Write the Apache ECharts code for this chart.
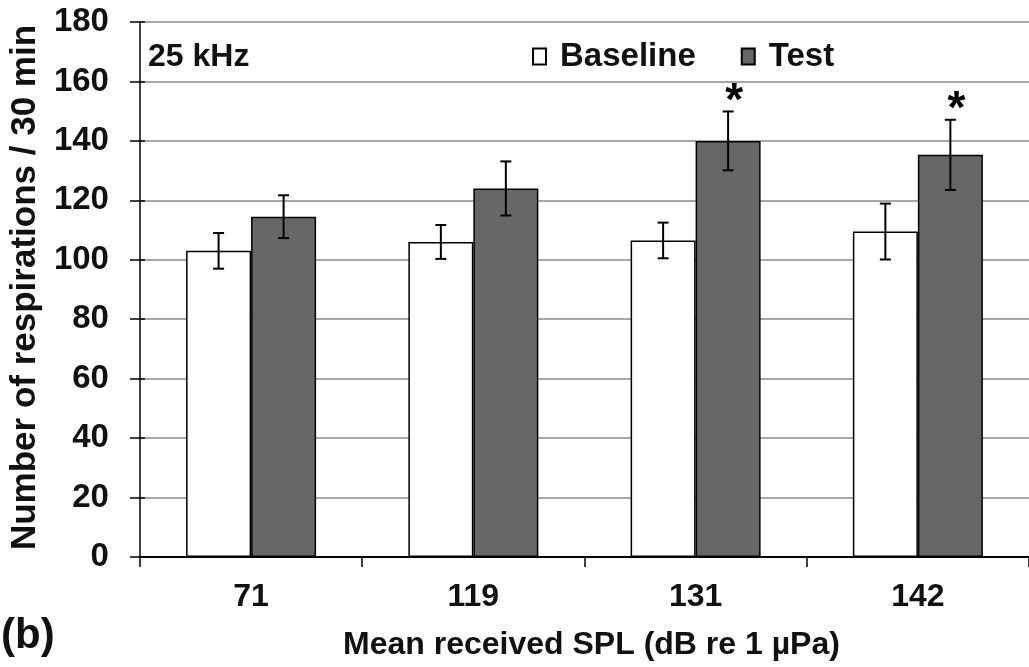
<!DOCTYPE html>
<html>
<head>
<meta charset="utf-8">
<script src="https://cdn.jsdelivr.net/npm/echarts@6/dist/echarts.min.js"></script>
<style>
html,body{margin:0;padding:0;background:#fff;}
#chart{width:1029px;height:667px;}
</style>
</head>
<body>
<div id="chart"></div>
<script>
var categories = ['71', '119', '131', '142'];
var baseline = [103, 106, 106.5, 109.5];
var baselineErr = [6, 5.7, 6, 9.4];
var test = [114.5, 124, 140, 135.3];
var testErr = [7.2, 9.1, 9.9, 11.8];
var significant = [false, false, true, true];
var yMin = 0, yMax = 180, yStep = 20;

var FONT = '"Liberation Sans", Arial, sans-serif';
var BAR_W = 65;

function errData(vals, errs, sig) {
  return vals.map(function (v, i) { return [i, v, errs[i], sig && sig[i] ? 1 : 0]; });
}

function errRender(side) {
  return function (params, api) {
    var i = api.value(0), v = api.value(1), e = api.value(2), s = api.value(3);
    var hi = api.coord([i, v + e]);
    var lo = api.coord([i, v - e]);
    var x = hi[0] + side * BAR_W / 2;
    var cap = 5.5;
    var st = { stroke: '#000', lineWidth: 2 };
    var children = [
      { type: 'line', shape: { x1: x, y1: hi[1], x2: x, y2: lo[1] }, style: st },
      { type: 'line', shape: { x1: x - cap, y1: hi[1], x2: x + cap, y2: hi[1] }, style: st },
      { type: 'line', shape: { x1: x - cap, y1: lo[1], x2: x + cap, y2: lo[1] }, style: st }
    ];
    if (s) {
      children.push({
        type: 'text',
        style: { text: '*', x: x + 6, y: hi[1] + 14, textAlign: 'center', textVerticalAlign: 'bottom',
                 font: 'bold 46px ' + FONT, fill: '#000' }
      });
    }
    return { type: 'group', children: children };
  };
}

var chart = echarts.init(document.getElementById('chart'));
chart.setOption({
  animation: false,
  backgroundColor: '#fff',
  grid: { left: 132, right: -4, top: 22, bottom: 110, containLabel: false },
  legend: {
    left: 532, top: 40, padding: 0,
    itemWidth: 13, itemHeight: 16, itemGap: 45,
    icon: 'rect',
    data: ['Baseline', 'Test'],
    textStyle: { fontFamily: FONT, fontWeight: 'bold', fontSize: 33, color: '#111', padding: [0, 0, 0, 9] }
  },
  graphic: [
    { type: 'text', left: 148, top: 41, style: { text: '25 kHz', font: 'bold 32px ' + FONT, fill: '#111' } },
    { type: 'text', left: 1, top: 615, style: { text: '(b)', font: 'bold 42px ' + FONT, fill: '#111' } }
  ],
  xAxis: {
    type: 'category',
    data: categories,
    axisLine: { lineStyle: { color: '#000', width: 2 } },
    axisTick: { show: true, length: 10, alignWithLabel: false, lineStyle: { color: '#000', width: 1.5 } },
    axisLabel: { margin: 24, fontFamily: FONT, fontWeight: 'bold', fontSize: 32, color: '#111' },
    name: 'Mean received SPL (dB re 1 \u00b5Pa)',
    nameLocation: 'middle',
    nameGap: 72,
    nameTextStyle: { fontFamily: FONT, fontWeight: 'bold', fontSize: 32, color: '#111', padding: [0, 0, 0, 14] }
  },
  yAxis: [{
    type: 'value',
    min: yMin, max: yMax, interval: yStep,
    axisLine: { show: true, lineStyle: { color: '#000', width: 1.5 } },
    axisTick: { show: true, length: 10, lineStyle: { color: '#000', width: 1.5 } },
    axisLabel: { margin: 31, fontFamily: FONT, fontWeight: 'bold', fontSize: 33, color: '#111' },
    splitLine: { show: true, lineStyle: { color: '#8a8a8a', width: 1.5 } },
    name: 'Number of respirations / 30 min',
    nameLocation: 'middle',
    nameGap: 95,
    nameTextStyle: { fontFamily: FONT, fontWeight: 'bold', fontSize: 35, color: '#111', padding: [0, 0, 0, 4] }
  }, {
    type: 'value',
    position: 'left',
    min: yMin, max: yMax, interval: yStep,
    axisLine: { show: false },
    axisTick: { show: true, inside: true, length: 5, lineStyle: { color: '#000', width: 1.5 } },
    axisLabel: { show: false },
    splitLine: { show: false }
  }],
  series: [
    {
      name: 'Baseline', type: 'bar', data: baseline, barWidth: BAR_W, barGap: '0%',
      itemStyle: { color: '#ffffff', borderColor: '#000', borderWidth: 1.5 }
    },
    {
      name: 'Test', type: 'bar', data: test, barWidth: BAR_W, barGap: '0%',
      itemStyle: { color: '#676767', borderColor: '#000', borderWidth: 1.5 }
    },
    {
      type: 'custom', renderItem: errRender(-1), data: errData(baseline, baselineErr), z: 10,
      encode: { x: 0, y: 1 }, silent: true
    },
    {
      type: 'custom', renderItem: errRender(1), data: errData(test, testErr, significant), z: 10,
      encode: { x: 0, y: 1 }, silent: true
    }
  ]
});
</script>
</body>
</html>
